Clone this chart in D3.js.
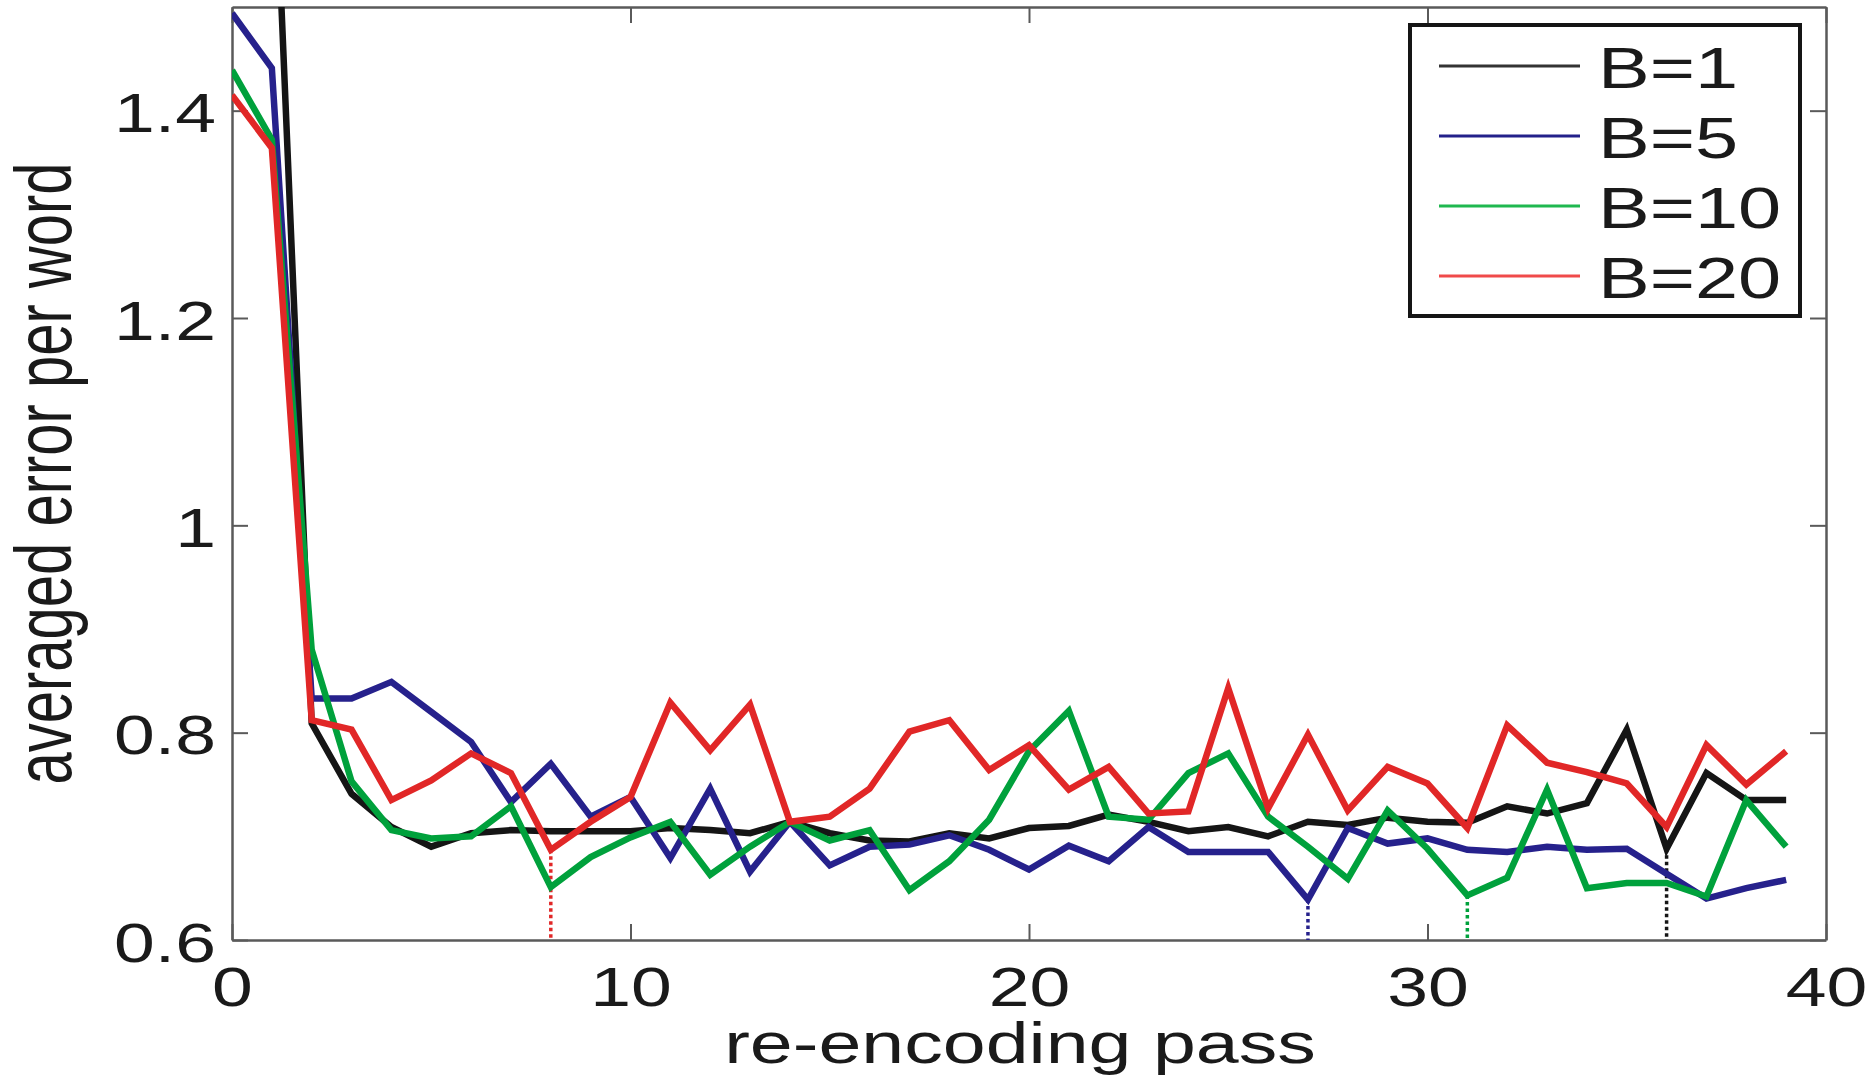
<!DOCTYPE html>
<html>
<head>
<meta charset="utf-8">
<script src="https://cdn.jsdelivr.net/npm/d3@7"></script>
<style>
  html, body { margin: 0; padding: 0; background: #ffffff; }
  svg { display: block; }
  text { font-family: "Liberation Sans", Arial, Helvetica, sans-serif; fill: #1a1a1a; }
</style>
</head>
<body>
<svg id="chart" width="1866" height="1078"></svg>
<script>
// ---- data ----
const passes = d3.range(0, 40);
const seriesNames = ["B=1", "B=5", "B=10", "B=20"];
const seriesColors = ["#151515", "#26218c", "#00a13c", "#e12727"];
const legendColors = ["#333333", "#23208a", "#1fb84f", "#f04a4a"];

const errB1 = [2.10, 1.72, 0.809, 0.741, 0.709, 0.690, 0.703, 0.706, 0.705, 0.705,
               0.705, 0.708, 0.706, 0.703, 0.714, 0.703, 0.696, 0.695, 0.703, 0.698,
               0.708, 0.710, 0.721, 0.714, 0.705, 0.709, 0.700, 0.714, 0.711, 0.718,
               0.714, 0.713, 0.729, 0.722, 0.732, 0.803, 0.688, 0.761, 0.735, 0.735];
const errB5 = [1.494, 1.441, 0.833, 0.833, 0.849, 0.820, 0.791, 0.733, 0.770, 0.719,
               0.738, 0.679, 0.746, 0.666, 0.714, 0.672, 0.690, 0.692, 0.701, 0.687,
               0.668, 0.691, 0.676, 0.709, 0.685, 0.685, 0.685, 0.639, 0.708, 0.693,
               0.698, 0.687, 0.685, 0.690, 0.687, 0.688, 0.664, 0.640, 0.650, 0.658];
const errB10 = [1.439, 1.372, 0.880, 0.753, 0.706, 0.698, 0.700, 0.729, 0.651, 0.680,
                0.699, 0.714, 0.663, 0.690, 0.714, 0.696, 0.706, 0.648, 0.676, 0.716,
                0.782, 0.821, 0.719, 0.716, 0.761, 0.780, 0.719, 0.690, 0.659, 0.725,
                0.688, 0.643, 0.660, 0.745, 0.650, 0.655, 0.655, 0.642, 0.735, 0.690];
const errB20 = [1.415, 1.364, 0.812, 0.803, 0.735, 0.754, 0.780, 0.761, 0.687, 0.714,
                0.738, 0.829, 0.783, 0.827, 0.714, 0.719, 0.746, 0.801, 0.812, 0.764,
                0.788, 0.745, 0.767, 0.722, 0.724, 0.843, 0.727, 0.798, 0.725, 0.767,
                0.751, 0.708, 0.807, 0.771, 0.762, 0.751, 0.709, 0.788, 0.750, 0.782];
const allSeries = [errB1, errB5, errB10, errB20];
// pass index marked with a dotted drop line for each series
const markedPass = [36, 27, 31, 8];

const xTicks = [0, 10, 20, 30, 40];
const xTickLabels = ["0", "10", "20", "30", "40"];
const yTicks = [0.6, 0.8, 1.0, 1.2, 1.4];
const yTickLabels = ["0.6", "0.8", "1", "1.2", "1.4"];
const xTitle = "re-encoding pass";
const yTitle = "averaged error per word";

(function draw() {
  const svg = d3.select("#chart");
  const pL = 232, pR = 1826, pT = 7, pB = 940;
  const SX = 1.36;       // horizontal text stretch of the reference
  const SXT = 1.31;      // stretch for tick labels
  const FS = 57;
  const FST = 56;

  const x = d3.scaleLinear().domain([0, 40]).range([pL, pR]);
  const y = d3.scaleLinear().domain([0.6, 1.5]).range([pB, pT]);

  svg.append("rect").attr("width", 1866).attr("height", 1078).attr("fill", "#fff");

  svg.append("defs").append("clipPath").attr("id", "plotclip")
    .append("rect").attr("x", pL).attr("y", pT)
    .attr("width", pR - pL).attr("height", pB - pT);

  const axisColor = "#5a5a5a";
  function styleAxis(g) {
    g.select(".domain").attr("stroke", axisColor).attr("stroke-width", 2.5);
    g.selectAll(".tick line").attr("stroke", axisColor).attr("stroke-width", 2);
  }

  const gx = svg.append("g").attr("transform", `translate(0,${pB})`)
    .call(d3.axisBottom(x).tickValues(xTicks).tickSizeInner(-16).tickSizeOuter(0)
          .tickFormat((d, i) => xTickLabels[i]));
  styleAxis(gx);
  gx.selectAll(".tick text")
    .attr("y", null).attr("dy", null)
    .attr("transform", `translate(0,66) scale(${SXT},1)`)
    .attr("font-size", FST).attr("font-family", "Liberation Sans, Arial, sans-serif")
    .attr("fill", "#1a1a1a").attr("text-anchor", "middle");

  const gy = svg.append("g").attr("transform", `translate(${pL},0)`)
    .call(d3.axisLeft(y).tickValues(yTicks).tickSizeInner(-16).tickSizeOuter(0)
          .tickFormat((d, i) => yTickLabels[i]));
  styleAxis(gy);
  gy.selectAll(".tick text")
    .attr("x", null).attr("dy", null)
    .attr("transform", `translate(-16,21) scale(${SXT},1)`)
    .attr("font-size", FST).attr("font-family", "Liberation Sans, Arial, sans-serif")
    .attr("fill", "#1a1a1a").attr("text-anchor", "end");

  const gt = svg.append("g").attr("transform", `translate(0,${pT})`)
    .call(d3.axisTop(x).tickValues(xTicks).tickSizeInner(-16).tickSizeOuter(0).tickFormat(""));
  styleAxis(gt);
  const gr = svg.append("g").attr("transform", `translate(${pR},0)`)
    .call(d3.axisRight(y).tickValues(yTicks).tickSizeInner(-16).tickSizeOuter(0).tickFormat(""));
  styleAxis(gr);

  const plot = svg.append("g").attr("clip-path", "url(#plotclip)");
  const line = d3.line().x((d, i) => x(passes[i])).y(d => y(d));

  allSeries.forEach((s, k) => {
    const p = markedPass[k];
    plot.append("line")
      .attr("x1", x(p)).attr("x2", x(p))
      .attr("y1", y(s[p])).attr("y2", y(0.6))
      .attr("stroke", seriesColors[k]).attr("stroke-width", 3.5)
      .attr("stroke-dasharray", "3.5,3");
  });

  allSeries.forEach((s, k) => {
    plot.append("path").datum(s)
      .attr("d", line)
      .attr("fill", "none")
      .attr("stroke", seriesColors[k])
      .attr("stroke-width", 6.5)
      .attr("stroke-linejoin", "miter")
      .attr("stroke-linecap", "butt");
  });

  svg.append("text")
    .attr("transform", `translate(1020,1063) scale(1.33,1)`)
    .attr("text-anchor", "middle").attr("font-size", 58)
    .text(xTitle);

  svg.append("text")
    .attr("transform", `translate(71,${(pT + pB) / 2}) scale(${SX},1) rotate(-90)`)
    .attr("text-anchor", "middle").attr("font-size", 58)
    .text(yTitle);

  const lg = svg.append("g");
  lg.append("rect").attr("x", 1410).attr("y", 25).attr("width", 390).attr("height", 291)
    .attr("fill", "#fff").attr("stroke", "#151515").attr("stroke-width", 4);
  const rowY = d3.scaleLinear().domain([0, 3]).range([66, 276]);
  seriesNames.forEach((name, k) => {
    lg.append("line")
      .attr("x1", 1439).attr("x2", 1580)
      .attr("y1", rowY(k)).attr("y2", rowY(k))
      .attr("stroke", legendColors[k]).attr("stroke-width", 3);
    lg.append("text")
      .attr("transform", `translate(1598,${rowY(k) + 22}) scale(${SX},1)`)
      .attr("font-size", FS)
      .text(name);
  });
})();
</script>
</body>
</html>
